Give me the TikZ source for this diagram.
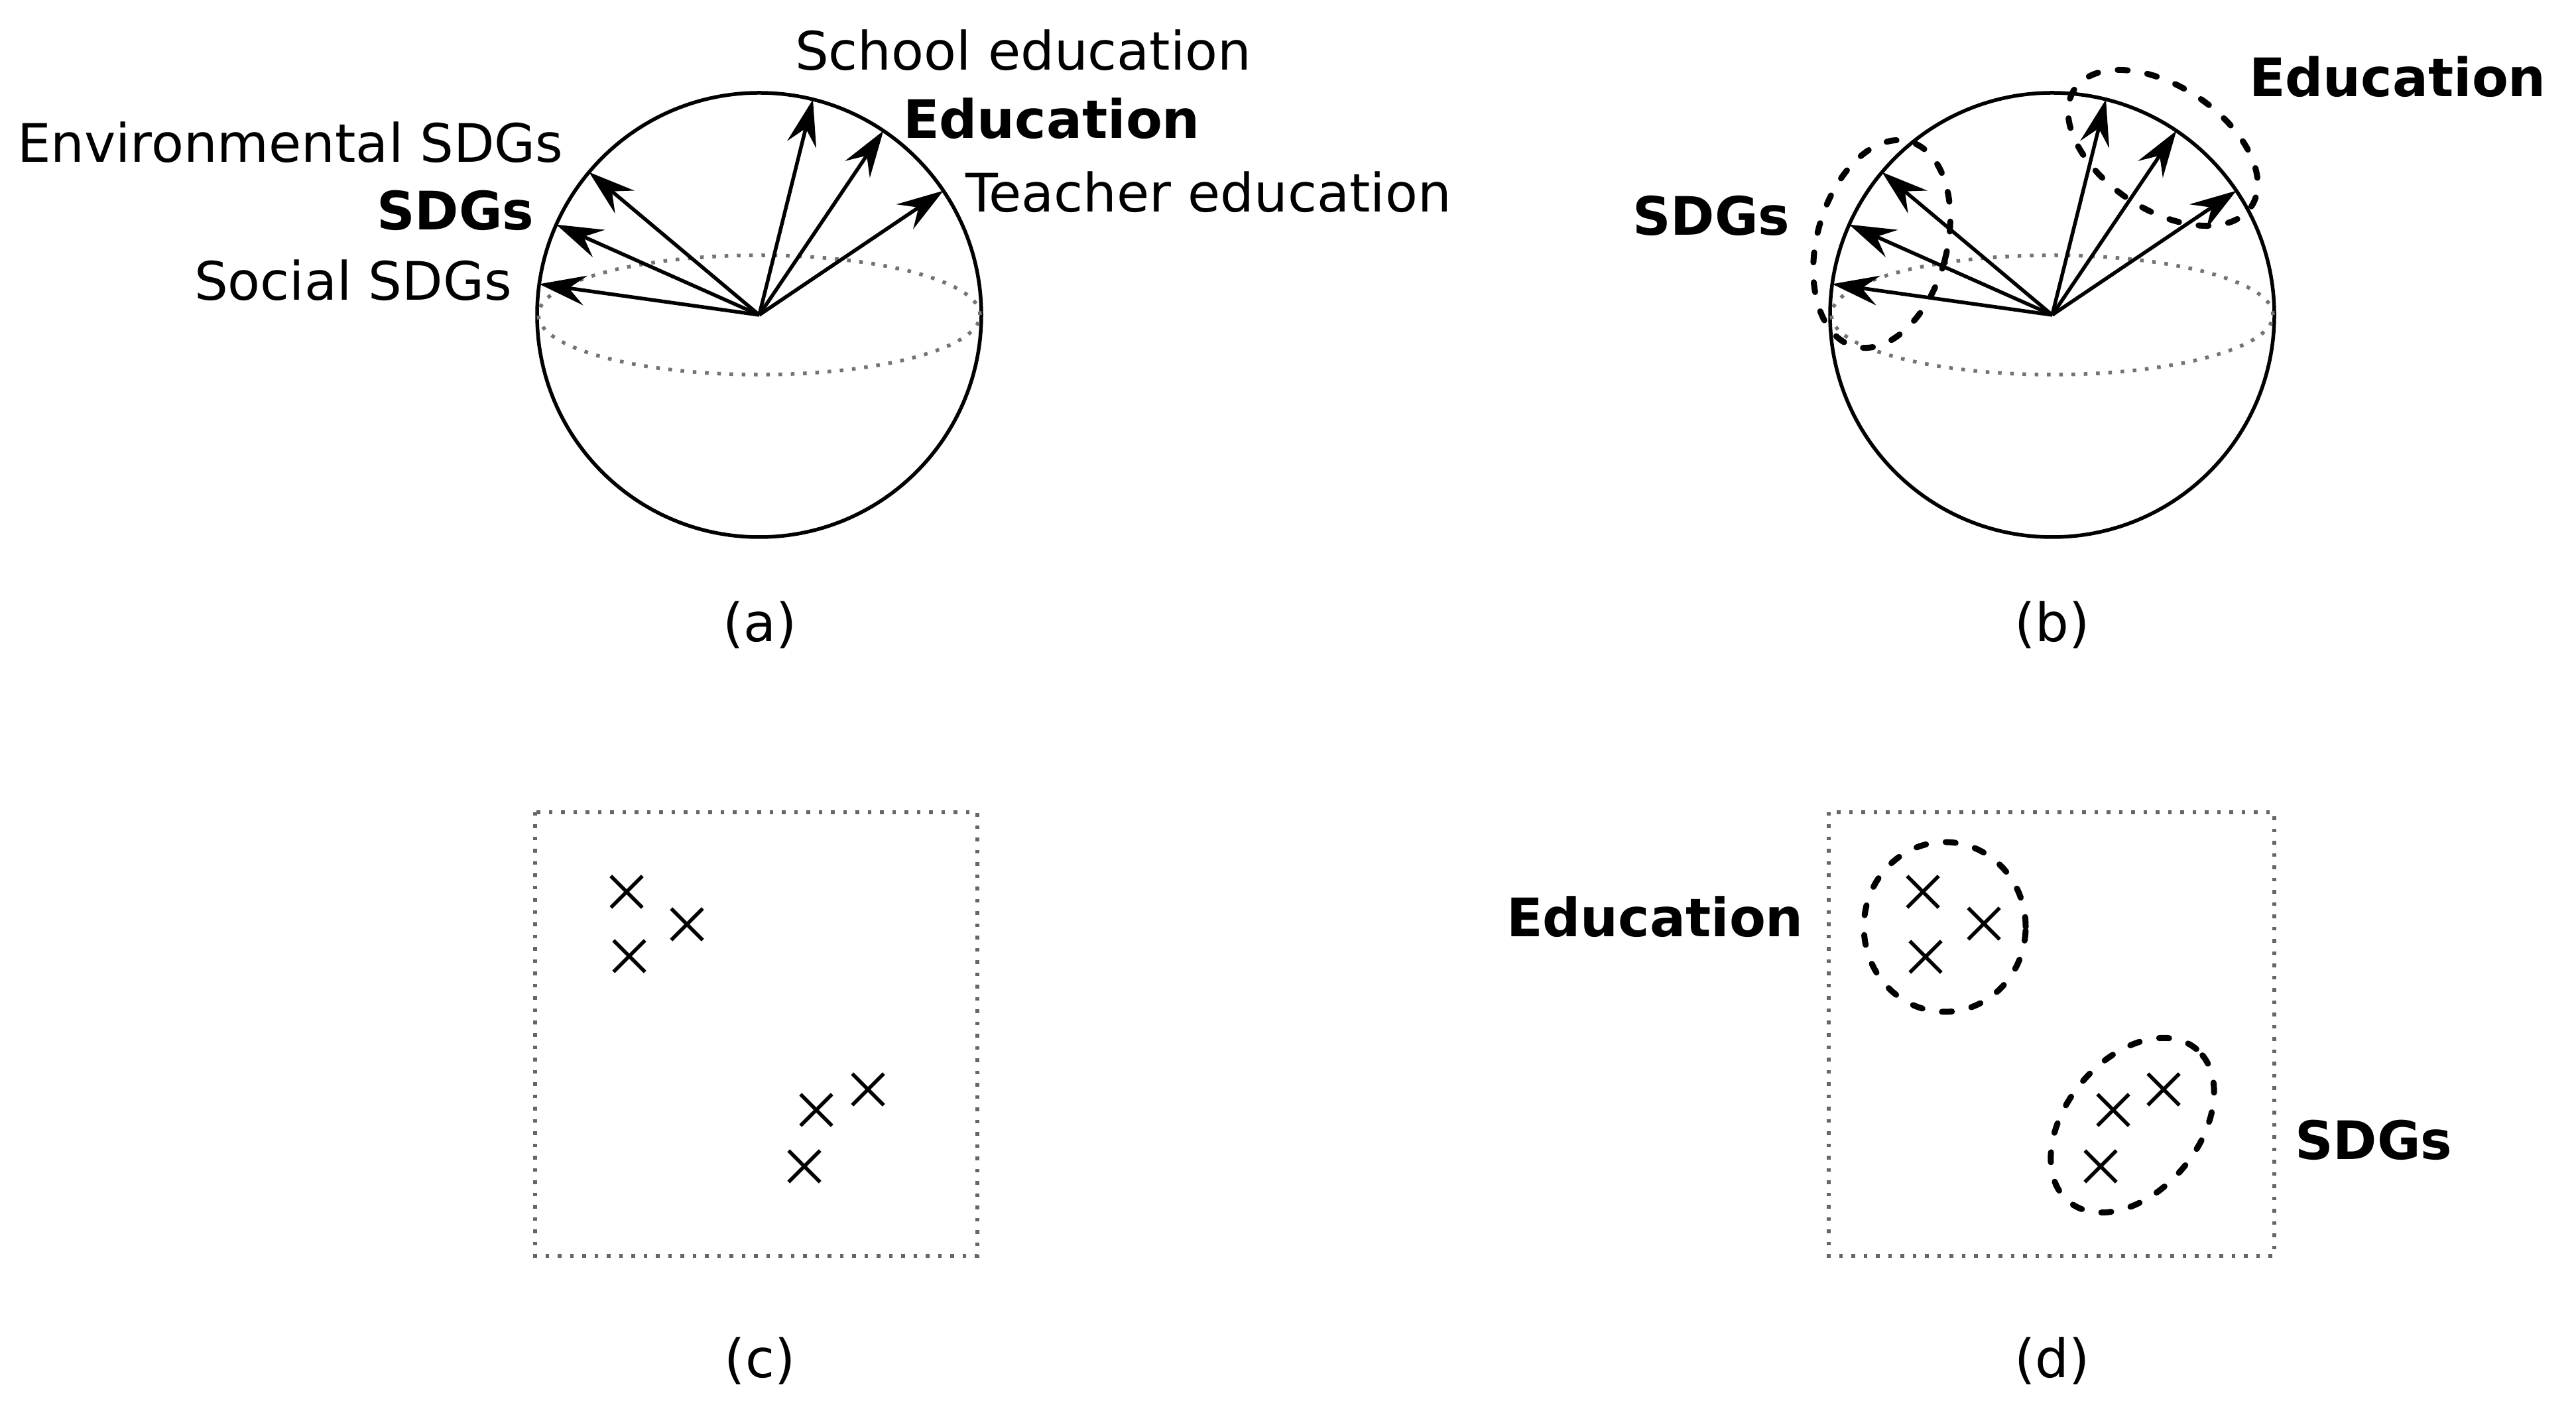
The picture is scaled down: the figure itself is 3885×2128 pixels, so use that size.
\documentclass[tikz,border=0pt]{standalone}
\usepackage{fontspec}
\setmainfont{DejaVu Sans}
\usetikzlibrary{arrows.meta,shapes.geometric,shapes.misc}
\begin{document}
\begin{tikzpicture}[x=0.2pt,y=-0.2pt,
  font=\fontsize{16}{19}\selectfont,
  sphere/.style={circle,draw,line width=1.1pt,minimum size=134pt,inner sep=0pt,outer sep=0pt},
  equator/.style={draw=black!55,line width=1.1pt,dash pattern=on 1.1pt off 2.6pt},
  vec/.style={line width=1.1pt,-{Stealth[length=14pt,width=9pt,inset=5pt]}},
  grp/.style={ellipse,draw,inner sep=0pt,line width=1.8pt,dash pattern=on 3pt off 6pt,line cap=round},
  dotbox/.style={draw=black!60,line width=1.1pt,dash pattern=on 1.1pt off 2.6pt},
  xmark/.style={cross out,draw,line width=1.1pt,minimum size=8.4pt,inner sep=0pt},
  lbl/.style={anchor=base west,inner sep=0pt},
  pcap/.style={anchor=base,inner sep=0pt}]
\useasboundingbox (0,0) rectangle (3885,2128);

% ---------- (a) ----------
\node[sphere] (sa) at (1145,475) {};
\draw[equator] (sa.center) ellipse [x radius=66.6pt, y radius=18pt];
\draw[vec] (sa.center) -- (sa.76.6);
\draw[vec] (sa.center) -- (sa.56.6);
\draw[vec] (sa.center) -- (sa.34.6);
\draw[vec] (sa.center) -- (sa.140.4);
\draw[vec] (sa.center) -- (sa.156.6);
\draw[vec] (sa.center) -- (sa.172.6);
\node[lbl] (la1) at (1198,106) {School education};
\node[lbl] (la2) at (1361,209) {\bfseries Education};
\node[lbl] (la3) at (1455,320) {Teacher education};
\node[lbl] (la4) at (25,245) {Environmental SDGs};
\node[lbl] (la5) at (567,347) {\bfseries SDGs};
\node[lbl] (la6) at (292,453) {Social SDGs};
\node[pcap] (capa) at (1146,968) {(a)};

% ---------- (b) ----------
\node[sphere] (sb) at (3095,475) {};
\draw[equator] (sb.center) ellipse [x radius=66.6pt, y radius=18pt];
\draw[vec] (sb.center) -- (sb.76.6);
\draw[vec] (sb.center) -- (sb.56.6);
\draw[vec] (sb.center) -- (sb.34.6);
\draw[vec] (sb.center) -- (sb.140.4);
\draw[vec] (sb.center) -- (sb.156.6);
\draw[vec] (sb.center) -- (sb.172.6);
\node[grp,minimum width=39.2pt,minimum height=64pt,rotate=-15] (gbs) at (2838,368) {};
\node[grp,minimum width=64pt,minimum height=37.2pt,rotate=-33.5] (gbe) at (3262,223) {};
\node[lbl] (lb1) at (2461,355) {\bfseries SDGs};
\node[lbl] (lb2) at (3391,146) {\bfseries Education};
\node[pcap] (capb) at (3095,968) {(b)};

% ---------- (c) ----------
\draw[dotbox] (807,1225) rectangle (1474,1894);
\node[xmark] (c1) at (945,1345) {};
\node[xmark] (c2) at (1036,1394) {};
\node[xmark] (c3) at (949,1442) {};
\node[xmark] (c4) at (1309,1643) {};
\node[xmark] (c5) at (1231,1674) {};
\node[xmark] (c6) at (1213,1759) {};
\node[pcap] (capc) at (1146,2078) {(c)};

% ---------- (d) ----------
\draw[dotbox] (2758,1225) rectangle (3430,1894);
\node[xmark] (d1) at (2900,1345) {};
\node[xmark] (d2) at (2992,1393) {};
\node[xmark] (d3) at (2904,1443) {};
\node[xmark] (d4) at (3263,1643) {};
\node[xmark] (d5) at (3187,1674) {};
\node[xmark] (d6) at (3168,1759) {};
\node[grp,minimum width=48.8pt,minimum height=51.2pt] (gde) at (2933,1398) {};
\node[grp,minimum width=60pt,minimum height=40pt,rotate=50] (gds) at (3216,1697) {};
\node[lbl] (ld1) at (2271,1413) {\bfseries Education};
\node[lbl] (ld2) at (3460,1749) {\bfseries SDGs};
\node[pcap] (capd) at (3095,2078) {(d)};
\end{tikzpicture}
\end{document}
